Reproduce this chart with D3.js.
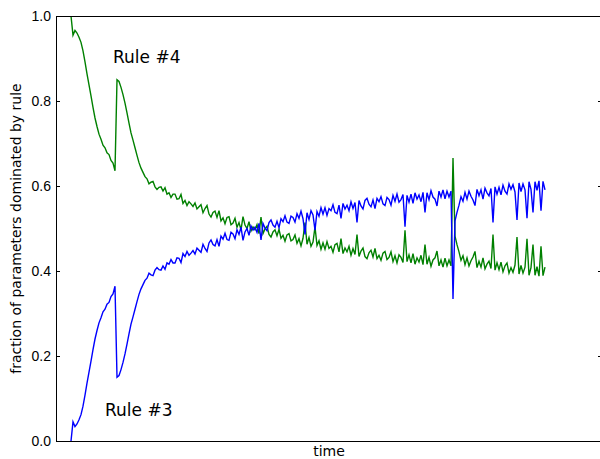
<!DOCTYPE html>
<html lang="en">
<head>
    <meta charset="UTF-8">
    <title>Rule domination over time</title>
    <script src="https://d3js.org/d3.v7.min.js"></script>
    <style>
body {
    margin: 0;
    background: white;
}

svg {
    display: block;
    font-family: 'DejaVu Sans', sans-serif;
}

.tick line {
    stroke: black;
}

.tick text {
    font-size: 14px;
    fill: black;
}
    </style>
</head>
<body>
    <svg id='canvas' width='600' height='459'></svg>
<script>
    // fraction of parameters dominated by rule #4 (green)
    let rule4 = [
        1.000, 0.955, 0.966, 0.960, 0.950, 0.938, 0.918, 0.892, 0.864, 0.838,
        0.812, 0.785, 0.760, 0.740, 0.722, 0.710, 0.696, 0.690, 0.678, 0.674,
        0.660, 0.654, 0.636, 0.850, 0.846, 0.832, 0.815, 0.795, 0.772, 0.748,
        0.725, 0.708, 0.690, 0.672, 0.655, 0.642, 0.632, 0.622, 0.617, 0.605,
        0.609, 0.611, 0.598, 0.592, 0.597, 0.598, 0.588, 0.596, 0.581, 0.584,
        0.573, 0.581, 0.581, 0.569, 0.570, 0.580, 0.559, 0.566, 0.554, 0.563,
        0.558, 0.552, 0.560, 0.546, 0.551, 0.556, 0.537, 0.547, 0.554, 0.534,
        0.527, 0.538, 0.541, 0.526, 0.542, 0.518, 0.525, 0.511, 0.526, 0.528,
        0.509, 0.513, 0.524, 0.503, 0.514, 0.497, 0.528, 0.508, 0.500, 0.516,
        0.494, 0.504, 0.497, 0.509, 0.488, 0.527, 0.488, 0.499, 0.505, 0.486,
        0.480, 0.492, 0.497, 0.483, 0.498, 0.477, 0.484, 0.470, 0.485, 0.488,
        0.471, 0.474, 0.485, 0.465, 0.476, 0.459, 0.477, 0.514, 0.463, 0.479,
        0.458, 0.468, 0.504, 0.460, 0.471, 0.451, 0.466, 0.451, 0.469, 0.453,
        0.458, 0.444, 0.462, 0.465, 0.445, 0.476, 0.441, 0.454, 0.445, 0.458,
        0.437, 0.453, 0.439, 0.486, 0.434, 0.447, 0.454, 0.434, 0.429, 0.443,
        0.449, 0.433, 0.453, 0.429, 0.437, 0.425, 0.442, 0.446, 0.427, 0.432,
        0.445, 0.422, 0.436, 0.419, 0.438, 0.432, 0.420, 0.496, 0.422, 0.438,
        0.419, 0.441, 0.416, 0.431, 0.421, 0.437, 0.415, 0.462, 0.416, 0.432,
        0.411, 0.426, 0.431, 0.447, 0.412, 0.426, 0.409, 0.430, 0.412, 0.426,
        0.412, 0.666, 0.482, 0.462, 0.445, 0.425, 0.436, 0.415, 0.431, 0.412,
        0.424, 0.433, 0.446, 0.408, 0.423, 0.409, 0.431, 0.405, 0.416, 0.423,
        0.406, 0.486, 0.402, 0.419, 0.403, 0.421, 0.398, 0.412, 0.419, 0.395,
        0.408, 0.397, 0.414, 0.480, 0.393, 0.413, 0.395, 0.409, 0.476, 0.390,
        0.408, 0.462, 0.390, 0.410, 0.388, 0.458, 0.389, 0.409
    ];

    // fraction of parameters dominated by rule #3 (blue)
    let rule3 = [
        0.000, 0.045, 0.034, 0.040, 0.050, 0.062, 0.082, 0.108, 0.136, 0.162,
        0.188, 0.215, 0.240, 0.260, 0.278, 0.290, 0.304, 0.310, 0.322, 0.326,
        0.340, 0.346, 0.364, 0.150, 0.154, 0.168, 0.185, 0.205, 0.228, 0.252,
        0.275, 0.292, 0.310, 0.328, 0.345, 0.358, 0.368, 0.378, 0.383, 0.395,
        0.391, 0.389, 0.402, 0.408, 0.403, 0.402, 0.412, 0.404, 0.419, 0.416,
        0.427, 0.419, 0.419, 0.431, 0.430, 0.420, 0.441, 0.434, 0.446, 0.437,
        0.442, 0.448, 0.440, 0.454, 0.449, 0.444, 0.463, 0.453, 0.446, 0.466,
        0.473, 0.462, 0.459, 0.474, 0.458, 0.482, 0.475, 0.489, 0.474, 0.472,
        0.491, 0.487, 0.476, 0.497, 0.486, 0.503, 0.472, 0.492, 0.500, 0.484,
        0.506, 0.496, 0.503, 0.491, 0.512, 0.473, 0.512, 0.501, 0.495, 0.514,
        0.520, 0.508, 0.503, 0.517, 0.502, 0.523, 0.516, 0.530, 0.515, 0.512,
        0.529, 0.526, 0.515, 0.535, 0.524, 0.541, 0.523, 0.486, 0.537, 0.521,
        0.542, 0.532, 0.496, 0.540, 0.529, 0.549, 0.534, 0.549, 0.531, 0.547,
        0.542, 0.556, 0.538, 0.535, 0.555, 0.524, 0.559, 0.546, 0.555, 0.542,
        0.563, 0.547, 0.561, 0.514, 0.566, 0.553, 0.546, 0.566, 0.571, 0.557,
        0.551, 0.567, 0.547, 0.571, 0.563, 0.575, 0.558, 0.554, 0.573, 0.568,
        0.555, 0.578, 0.564, 0.581, 0.562, 0.568, 0.580, 0.504, 0.578, 0.562,
        0.581, 0.559, 0.584, 0.569, 0.579, 0.563, 0.585, 0.538, 0.584, 0.568,
        0.589, 0.574, 0.569, 0.553, 0.588, 0.574, 0.591, 0.570, 0.588, 0.574,
        0.588, 0.334, 0.518, 0.538, 0.555, 0.575, 0.564, 0.585, 0.569, 0.588,
        0.576, 0.567, 0.554, 0.592, 0.577, 0.591, 0.569, 0.595, 0.584, 0.577,
        0.594, 0.514, 0.598, 0.581, 0.597, 0.579, 0.602, 0.588, 0.581, 0.605,
        0.592, 0.603, 0.586, 0.520, 0.607, 0.587, 0.605, 0.591, 0.524, 0.610,
        0.592, 0.538, 0.610, 0.590, 0.612, 0.542, 0.611, 0.591
    ];

    let yTicks = [0.0, 0.2, 0.4, 0.6, 0.8, 1.0];
    let labels = [
        {text: 'Rule #4', step: 21, value: 0.89},
        {text: 'Rule #3', step: 17, value: 0.06}
    ];

    let margin = {top: 16, left: 56, right: -2, bottom: 18};
    let width = 600 - margin.left - margin.right;
    let height = 459 - margin.top - margin.bottom;

    let canvas = d3.select('#canvas');
    let plot = canvas.append('g')
        .attr('transform', 'translate(' + margin.left + ',' + margin.top + ')');

    let xScale = d3.scaleLinear().domain([-7.5, 265.5]).range([0, width]);
    let yScale = d3.scaleLinear().domain([0, 1]).range([height, 0]);

    let line = d3.line()
        .x((d, i) => xScale(i))
        .y((d) => yScale(d));

    plot.append('path')
        .datum(rule4)
        .attr('fill', 'none')
        .attr('stroke', '#008000')
        .attr('stroke-width', 1.4)
        .attr('d', line);

    plot.append('path')
        .datum(rule3)
        .attr('fill', 'none')
        .attr('stroke', '#0000ff')
        .attr('stroke-width', 1.4)
        .attr('d', line);

    // axes: ticks point inwards, no labels on the right
    let leftAxis = d3.axisLeft(yScale)
        .tickValues(yTicks)
        .tickFormat(d3.format('.1f'))
        .tickSizeInner(-4)
        .tickSizeOuter(0)
        .tickPadding(5);

    plot.append('g')
        .call(leftAxis)
        .call((g) => g.select('.domain').remove());

    let rightAxis = d3.axisRight(yScale)
        .tickValues(yTicks)
        .tickFormat('')
        .tickSizeInner(-4)
        .tickSizeOuter(0);

    plot.append('g')
        .attr('transform', 'translate(' + width + ',0)')
        .call(rightAxis)
        .call((g) => g.select('.domain').remove());

    plot.append('rect')
        .attr('x', 0.5)
        .attr('y', 0.5)
        .attr('width', width)
        .attr('height', height)
        .attr('fill', 'none')
        .attr('stroke', 'black')
        .attr('stroke-width', 1);

    plot.selectAll('.rule-label')
        .data(labels)
        .enter()
        .append('text')
        .attr('class', 'rule-label')
        .attr('x', (d) => xScale(d.step))
        .attr('y', (d) => yScale(d.value))
        .attr('font-size', 17)
        .attr('fill', 'black')
        .text((d) => d.text);

    canvas.append('text')
        .attr('x', margin.left + width / 2)
        .attr('y', 456)
        .attr('text-anchor', 'middle')
        .attr('font-size', 14)
        .text('time');

    canvas.append('text')
        .attr('transform', 'translate(21,' + (margin.top + height / 2) + ') rotate(-90)')
        .attr('text-anchor', 'middle')
        .attr('font-size', 14)
        .text('fraction of parameters dominated by rule');
</script>
</body>
</html>
